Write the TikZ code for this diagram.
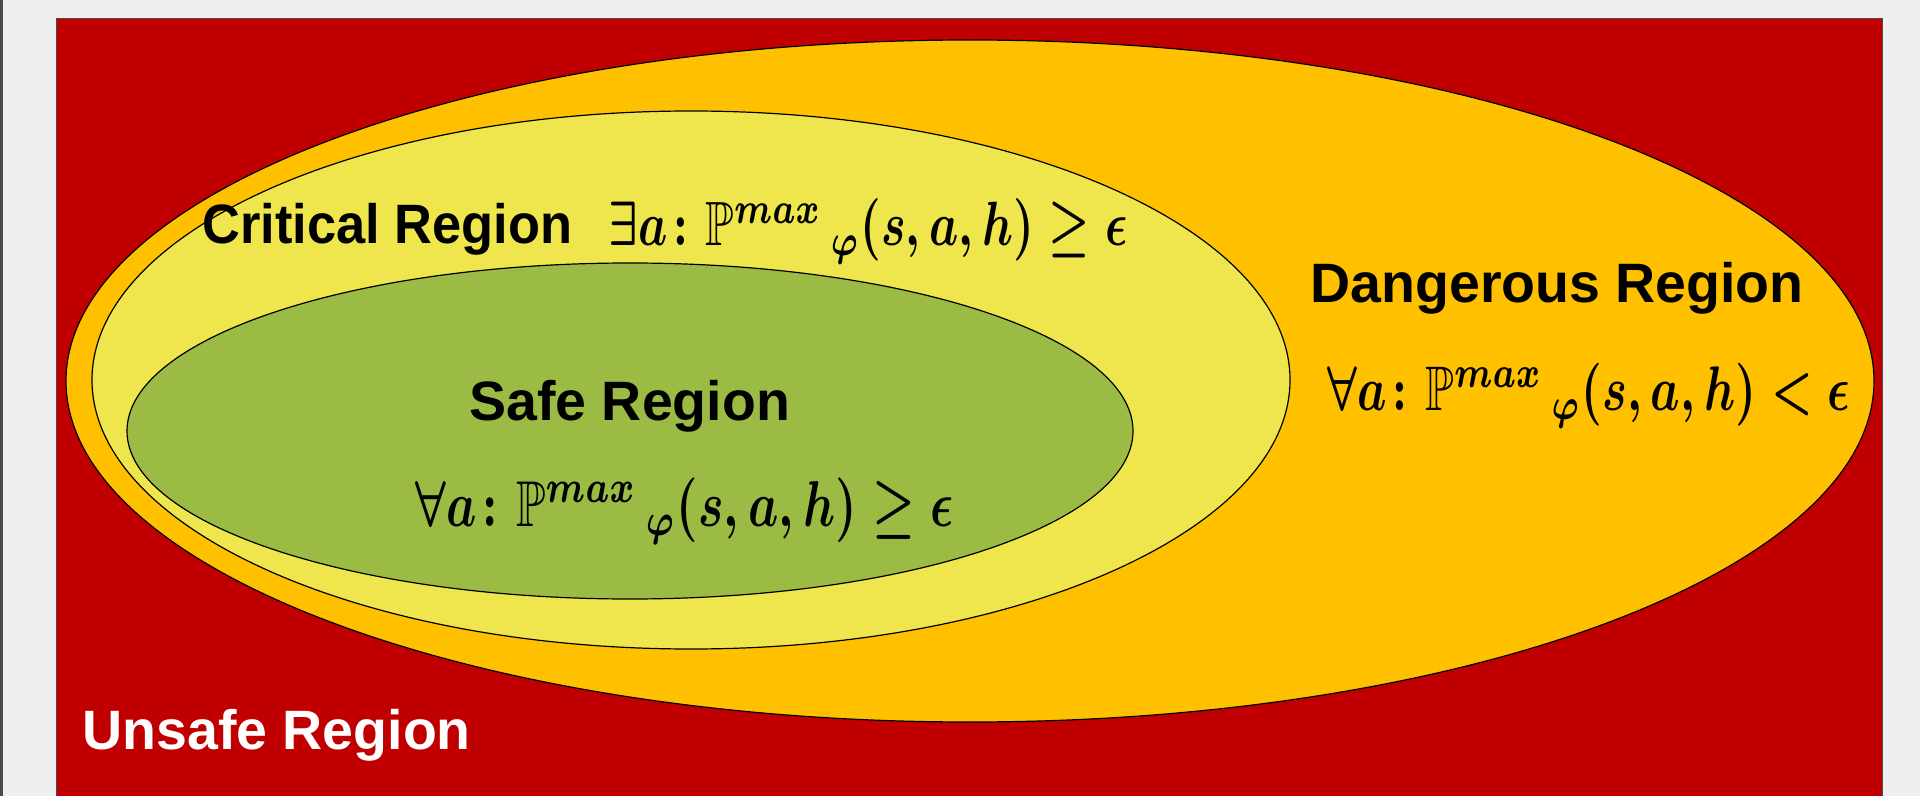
\documentclass[tikz,border=0pt]{standalone}
\usepackage{amsmath,amssymb,graphicx}
\usepackage{fontspec}
\setmainfont{Liberation Sans}
\definecolor{bgc}{HTML}{EFEFEF}
\definecolor{edgec}{HTML}{4A4A4A}
\definecolor{unsafec}{HTML}{C00000}
\definecolor{dangerc}{HTML}{FFC000}
\definecolor{critc}{HTML}{EEE64C}
\definecolor{safec}{HTML}{9BBB45}
\newcommand{\tallmath}[2]{\scalebox{1}[1.35]{\resizebox{#1}{!}{\boldmath$#2$}}}
\begin{document}
\begin{tikzpicture}[x=0.5pt,y=-0.5pt,
  region/.style={draw=black, line width=0.6pt},
  lab/.style={inner sep=0pt, font=\fontsize{27.75}{33}\selectfont\bfseries, text=black},
  formula/.style={inner sep=0pt, text=black}]
\useasboundingbox (0,0) rectangle (1920,796);
\clip (0,0) rectangle (1920,796);
\fill[bgc] (0,0) rectangle (1920,796);
\fill[edgec] (0,0) rectangle (2.5,796);
\filldraw[fill=unsafec, draw=black!70, line width=0.5pt] (56,19) rectangle (1882,820);
\filldraw[region, fill=dangerc] (970,381) ellipse [x radius=452pt, y radius=170.5pt];
\filldraw[region, fill=critc] (691,380) ellipse [x radius=299.5pt, y radius=134.5pt];
\filldraw[region, fill=safec] (630,431) ellipse [x radius=251.5pt, y radius=84pt];
\node[lab, anchor=base west] (crit) at (202,244) {\scalebox{0.944}[1]{Critical Region}};
\node[lab, anchor=base west] (dang) at (1310,303) {Dangerous Region};
\node[lab, anchor=base west] (safe) at (469,420) {Safe Region};
\node[lab, anchor=base west, text=white] (unsafe) at (82,749) {Unsafe Region};
\node[formula, anchor=base west] (critf) at (608,246) {\tallmath{259.5pt}{\exists a\colon \mathbb{P}^{max}\,{}_{\varphi}(s,a,h)\geq\epsilon}};
\node[formula, anchor=base west] (dangf) at (1327,410) {\tallmath{261.5pt}{\forall a\colon \mathbb{P}^{max}\,{}_{\varphi}(s,a,h)<\epsilon}};
\node[formula, anchor=base west] (safef) at (415,526) {\tallmath{269pt}{\forall a\colon \mathbb{P}^{max}\,{}_{\varphi}(s,a,h)\geq\epsilon}};
\end{tikzpicture}
\end{document}
